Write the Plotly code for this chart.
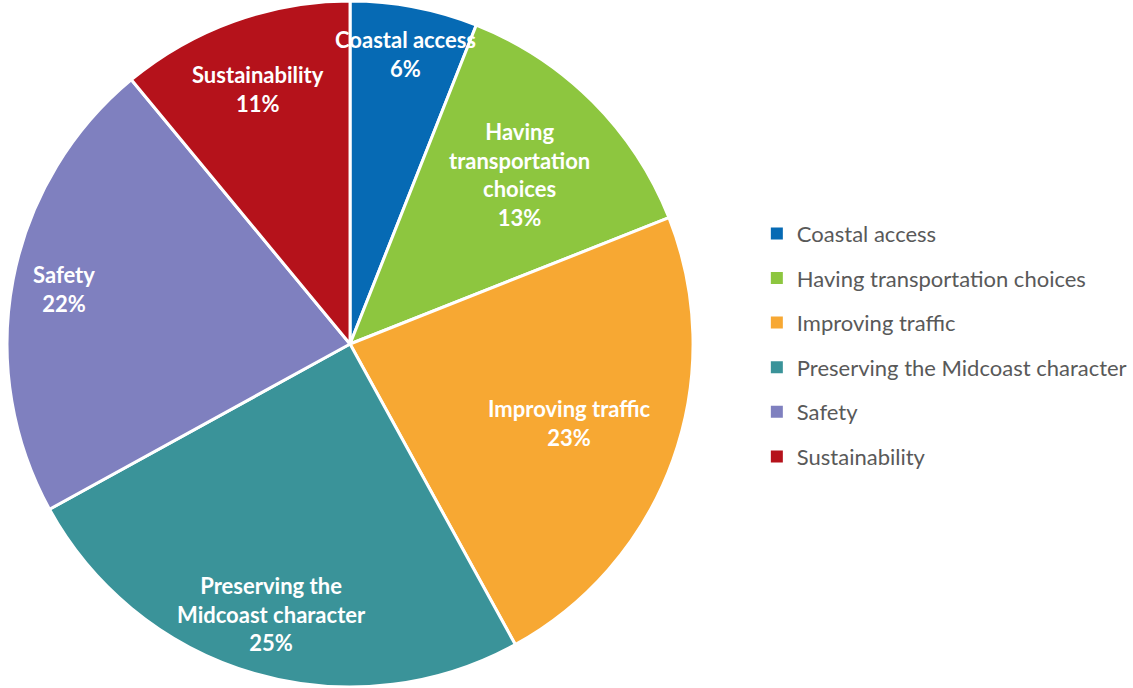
import math
import plotly.graph_objects as go

categories = ["Coastal access", "Having transportation choices", "Improving traffic",
              "Preserving the Midcoast character", "Safety", "Sustainability"]
values = [6, 13, 23, 25, 22, 11]
slice_labels = ["Coastal access", "Having<br>transportation<br>choices", "Improving traffic",
                "Preserving the<br>Midcoast character", "Safety", "Sustainability"]
colors = ["#066AB4", "#8DC63F", "#F7A833", "#3A9399", "#7F80BF", "#B5121B"]

# radial placement of each data label (fraction of the radius), like Excel's best fit
label_radius = [0.86, 0.70, 0.68, 0.82, 0.85, 0.79]

FONT = "Lato, 'Open Sans', sans-serif"
W, H = 1133, 688
DOM_X = [0.0062, 0.6117]
DOM_Y = [0.0, 1.0]

fig = go.Figure()
fig.add_trace(go.Pie(
    labels=categories,
    values=values,
    sort=False,
    direction="clockwise",
    rotation=0,
    marker=dict(colors=colors, line=dict(color="white", width=3)),
    textinfo="none",
    showlegend=False,
    hoverinfo="label+percent",
    domain=dict(x=DOM_X, y=DOM_Y),
))

# data labels placed at each slice's mid-angle
total = sum(values)
cx = (DOM_X[0] + DOM_X[1]) / 2 * W
cy = (DOM_Y[0] + DOM_Y[1]) / 2 * H
radius = min((DOM_X[1] - DOM_X[0]) * W, (DOM_Y[1] - DOM_Y[0]) * H) / 2
cum = 0
for lab, v, rf in zip(slice_labels, values, label_radius):
    mid = (cum + v / 2) / total * 2 * math.pi
    cum += v
    px = cx + rf * radius * math.sin(mid)
    py = cy + rf * radius * math.cos(mid)
    fig.add_annotation(
        x=px / W, y=py / H, xref="paper", yref="paper",
        text=f"<b>{lab}<br>{round(v / total * 100)}%</b>",
        showarrow=False, xanchor="center", yanchor="middle", align="center",
        font=dict(family=FONT, size=22, color="white"),
    )

for name, col in zip(categories, colors):
    fig.add_trace(go.Scatter(
        x=[None], y=[None], mode="markers", name=name, legendgroup=name,
        marker=dict(symbol="square", size=8, color=col),
    ))

fig.update_layout(
    width=W, height=H,
    margin=dict(l=0, r=0, t=0, b=0),
    paper_bgcolor="white", plot_bgcolor="white",
    xaxis=dict(visible=False), yaxis=dict(visible=False),
    legend=dict(x=0.668, y=0.691, xanchor="left", yanchor="top",
                font=dict(family=FONT, size=22, color="#595959"),
                tracegroupgap=13, itemsizing="constant"),
)

fig.write_html("out.html", config={"displayModeBar": False},
               post_script="document.body.style.margin='0';")
